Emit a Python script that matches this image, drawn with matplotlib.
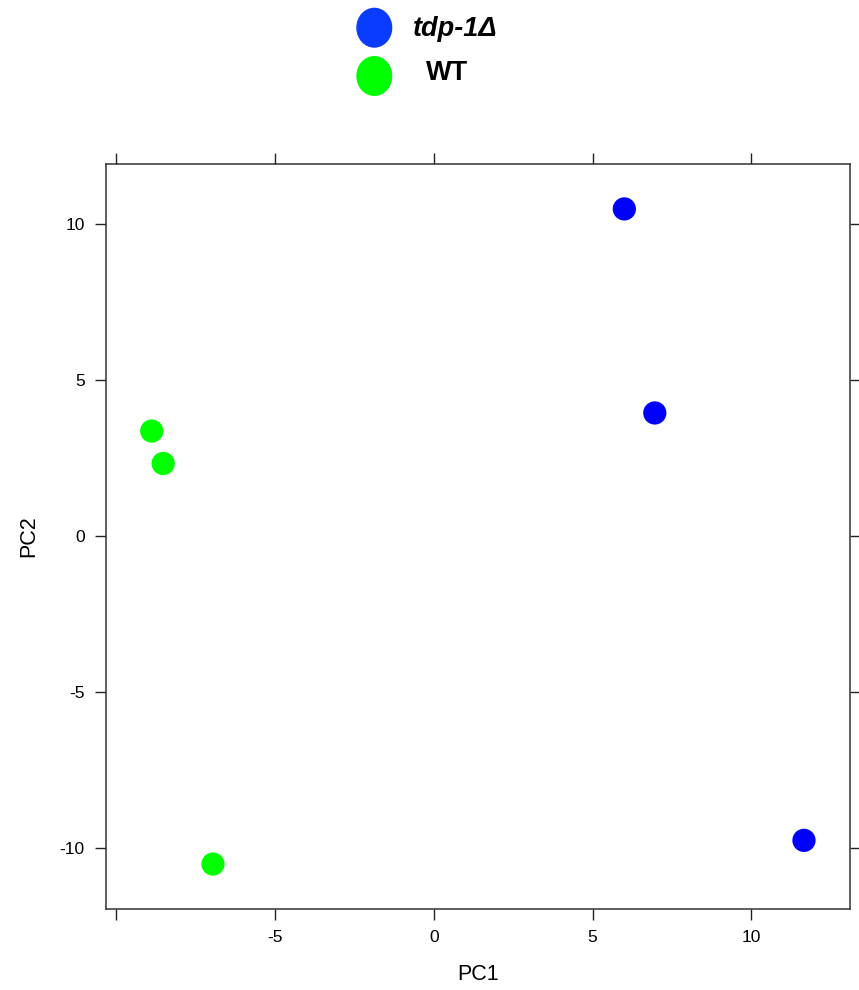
import matplotlib
matplotlib.use("Agg")
import matplotlib.pyplot as plt
from matplotlib.patches import Ellipse

plt.rcParams['font.family'] = ['Liberation Sans', 'DejaVu Sans']

groups = ["tdp-1Δ", "WT"]
pc1_tdp = [6.00, 6.96, 11.66]
pc2_tdp = [10.48, 3.94, -9.76]
pc1_wt = [-8.89, -8.53, -6.96]
pc2_wt = [3.36, 2.32, -10.52]
point_colors = ["#0000FF", "#00FF00"]
legend_colors = ["#0A3CFF", "#00FF00"]
xticks = [-10, -5, 0, 5, 10]
xticklabels = ["", "-5", "0", "5", "10"]
yticks = [-10, -5, 0, 5, 10]
yticklabels = ["-10", "-5", "0", "5", "10"]

W, H = 859, 990
fig = plt.figure(figsize=(W / 100, H / 100), dpi=100)
ax = fig.add_axes([105.7 / W, 1 - 909 / H, (850 - 105.7) / W, (909 - 164) / H])

ax.scatter(pc1_tdp, pc2_tdp, s=280, color=point_colors[0], edgecolors='none', zorder=3)
ax.scatter(pc1_wt, pc2_wt, s=280, color=point_colors[1], edgecolors='none', zorder=3)

ax.set_xlim(-10.34, 13.11)
ax.set_ylim(-11.96, 11.92)
ax.set_xticks(xticks)
ax.set_xticklabels(xticklabels)
ax.set_yticks(yticks)
ax.set_yticklabels(yticklabels)
ax.tick_params(direction='out', length=8, width=1, labelsize=12.5, pad=7,
               top=True, right=True, labeltop=False, labelright=False, colors='#222222',
               labelcolor='black')
for sp in ax.spines.values():
    sp.set_linewidth(1.1)
    sp.set_color('#333333')

ax.set_xlabel("PC1", fontsize=15.5, labelpad=14)
ax.set_ylabel("PC2", fontsize=15.5, labelpad=15)

# legend (top, outside)
leg_y = [27.7, 76.0]
for i, g in enumerate(groups):
    e = Ellipse((374.3 / W, 1 - leg_y[i] / H), 36 / W, 40 / H,
                transform=fig.transFigure, color=legend_colors[i], ec='none')
    fig.patches.append(e)
fig.text(413 / W, 1 - 29 / H, groups[0], fontsize=19.5, fontweight='bold', style='italic',
         ha='left', va='center')
fig.text(426 / W, 1 - 73 / H, groups[1], fontsize=19.5, fontweight='bold',
         ha='left', va='center')

fig.savefig("out.png", dpi=100)
